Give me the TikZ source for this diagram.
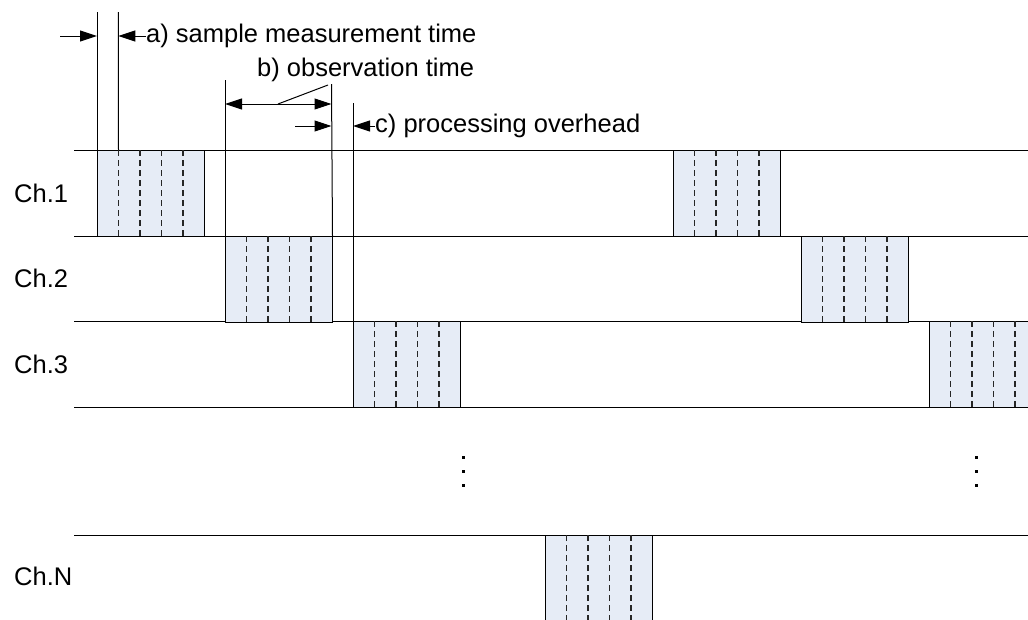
\documentclass[tikz,border=0pt]{standalone}
\usepackage{fontspec}
\setmainfont{Liberation Sans}
\usepackage{tikz}
\usetikzlibrary{positioning}
\usetikzlibrary{arrows.meta}
\usetikzlibrary{calc}

\definecolor{slotfill}{RGB}{230,236,246}
\tikzset{
  slot/.style={draw, line width=1pt, fill=slotfill, minimum width=106.5pt, minimum height=85.5pt, inner sep=0pt, anchor=north west},
  divider/.style={line width=1.1pt, dash pattern=on 6pt off 4pt, black!85},
  track/.style={line width=1pt},
  marker/.style={line width=1pt},
  dim/.style={line width=1pt, -{Triangle[length=17pt,width=11pt]}},
  dimboth/.style={line width=1pt, {Triangle[length=17pt,width=11pt]}-{Triangle[length=17pt,width=11pt]}},
  txt/.style={font=\fontsize{25.5}{30}\selectfont, inner sep=0pt, anchor=west},
}

\begin{document}
\begin{tikzpicture}[x=1pt, y=-1pt]
\useasboundingbox (0,0) rectangle (1028,619);

\foreach \n/\y in {1/150, 2/236, 3/321, 4/407, 5/535} {
  \coordinate (tl\n) at (74,\y);
  \coordinate (tr\n) at (1028,\y);
  \draw[track] (tl\n) -- (tr\n);
}

\foreach \name/\x/\y in {s1a/97/150, s2a/225/236, s3a/353/321, sNa/545/535, s1b/673/150, s2b/801/236, s3b/929/321} {
  \node[slot] (\name) at (\x,\y) {};
  \foreach \k in {1,...,4}
    \draw[divider] ($(\name.north west)!\k/5!(\name.north east)$) -- ($(\name.south west)!\k/5!(\name.south east)$);
}

\node[txt] (ch1) at (14,193) {Ch.1};
\node[txt] (ch2) at (14,278) {Ch.2};
\node[txt] (ch3) at (14,364) {Ch.3};
\node[txt] (chN) at (14,576) {Ch.N};

\coordinate (atop) at (97,12);
\coordinate (a2top) at (118.3,12);
\coordinate (btop) at (225,80);
\coordinate (b2top) at (331.5,84);
\coordinate (ctop) at (353,103);
\draw[marker] (atop) -- (s1a.north west);
\draw[marker] (a2top) -- ($(s1a.north west)!0.2!(s1a.north east)$);
\draw[marker] (btop) -- (s2a.north west);
\draw[marker] (b2top) -- (s2a.north east);
\draw[marker] (ctop) -- (s3a.north west);

\coordinate (aL) at (60,36);
\draw[dim] (aL) -- (aL -| atop);
\node[txt] (alabel) at (146,36) {a) sample measurement time};
\draw[dim] (alabel.west) -- (alabel.west -| a2top);

\coordinate (bmid) at (278,104);
\coordinate (bend) at (328,85);
\draw[dimboth] (bmid -| btop) -- (bmid -| b2top);
\draw[marker] (bmid) -- (bend);
\node[txt] (blabel) at (257,70) {b) observation time};

\coordinate (cL) at (295,126);
\draw[dim] (cL) -- (cL -| b2top);
\node[txt] (clabel) at (375,126) {c) processing overhead};
\draw[dim] (clabel.west) -- (clabel.west -| ctop);

\foreach \x in {461.5, 974.5}
  \foreach \y in {455.5, 469.5, 483.5}
    \fill (\x,\y) rectangle ++(3,3);
\end{tikzpicture}
\end{document}
